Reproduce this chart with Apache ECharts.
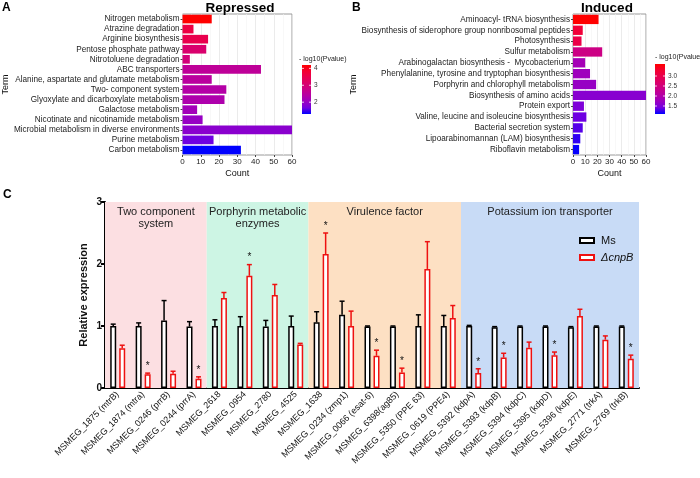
<!DOCTYPE html>
<html><head><meta charset="utf-8">
<script src="https://cdn.jsdelivr.net/npm/echarts@6/dist/echarts.min.js"></script>
<style>html,body{margin:0;padding:0;background:#fff}#c{width:700px;height:478px}</style>
</head><body><div id="c"></div>
<script>
// ---------- Panel A (Repressed) ----------
const termsA = ['Nitrogen metabolism','Atrazine degradation','Arginine biosynthesis','Pentose phosphate pathway','Nitrotoluene degradation','ABC transporters','Alanine, aspartate and glutamate metabolism','Two- component system','Glyoxylate and dicarboxylate metabolism','Galactose metabolism','Nicotinate and nicotinamide metabolism','Microbial metabolism in diverse environments','Purine metabolism','Carbon metabolism'];
const countA = [16, 6, 14, 13, 4, 43, 16, 24, 23, 8, 11, 60, 17, 32];
const pA = [4.2, 3.62, 3.5, 3.1, 2.95, 2.55, 2.48, 2.38, 2.3, 2.14, 2.0, 1.88, 1.65, 1.3];
const pRangeA = [1.3, 4.2];
const pTicksA = [2, 3, 4];

// ---------- Panel B (Induced) ----------
const termsB = ['Aminoacyl- tRNA biosynthesis','Biosynthesis of siderophore group nonribosomal peptides','Photosynthesis','Sulfur metabolism','Arabinogalactan biosynthesis -  Mycobacterium','Phenylalanine, tyrosine and tryptophan biosynthesis','Porphyrin and chlorophyll metabolism','Biosynthesis of amino acids','Protein export','Valine, leucine and isoleucine biosynthesis','Bacterial secretion system','Lipoarabinomannan (LAM) biosynthesis','Riboflavin metabolism'];
const countB = [21, 8, 7, 24, 10, 14, 19, 60, 9, 11, 8, 6, 5];
const pB = [3.6, 3.2, 3.05, 2.4, 1.85, 1.78, 1.7, 1.58, 1.5, 1.4, 1.33, 1.23, 1.12];
const pRangeB = [1.1, 3.6];
const pTicksB = ['1.5', '2.0', '2.5', '3.0'];

const countTicks = [0, 10, 20, 30, 40, 50, 60];

// ---------- Panel C ----------
const genes = ['MSMEG_1875 (mtrB)','MSMEG_1874 (mtra)','MSMEG_0246 (prrB)','MSMEG_0244 (prrA)','MSMEG_2618','MSMEG_0954','MSMEG_2780','MSMEG_4525','MSMEG_1638','MSMEG_0234 (zmp1)','MSMEG_0066 (esat-6)','MSMEG_6398(ag85)','MSMEG_5350 (PPE 63)','MSMEG_0619 (PPE4)','MSMEG_5392 (kdpA)','MSMEG_5393 (kdpB)','MSMEG_5394 (kdpC)','MSMEG_5395 (kdpD)','MSMEG_5396 (kdpE)','MSMEG_2771 (trkA)','MSMEG_2769 (trkB)'];
const msMean = [1.0, 1.0, 1.09, 0.99, 1.0, 1.0, 0.99, 1.0, 1.06, 1.18, 0.99, 0.99, 1.0, 1.0, 1.0, 0.98, 0.99, 0.99, 0.98, 0.99, 0.99];
const msErr  = [0.03, 0.05, 0.32, 0.08, 0.10, 0.15, 0.10, 0.16, 0.17, 0.22, 0.01, 0.01, 0.18, 0.17, 0.01, 0.01, 0.01, 0.01, 0.01, 0.01, 0.01];
const cnpMean = [0.64, 0.22, 0.23, 0.15, 1.45, 1.81, 1.50, 0.70, 2.16, 1.00, 0.52, 0.25, 1.92, 1.13, 0.24, 0.49, 0.65, 0.53, 1.16, 0.78, 0.47];
const cnpErr  = [0.05, 0.02, 0.04, 0.03, 0.09, 0.18, 0.17, 0.02, 0.34, 0.24, 0.09, 0.07, 0.44, 0.20, 0.07, 0.07, 0.09, 0.05, 0.11, 0.06, 0.06];
const signif = [0, 1, 0, 1, 0, 1, 0, 0, 1, 0, 1, 1, 0, 0, 1, 1, 0, 1, 0, 0, 1];
const groupNames = ['Two component\nsystem', 'Porphyrin metabolic\nenzymes', 'Virulence factor', 'Potassium ion transporter'];
const groupBounds = [0, 4, 8, 14, 21];
const yTicksC = [0, 1, 2, 3];
const seriesNames = ['Ms', 'ΔcnpB'];

// ---------- styles ----------
const FONT = 'Liberation Sans, Arial, sans-serif';
const grad = ['#0000FF','#7300E0','#9A00C2','#B500A5','#C90088','#DA006C','#E8004F','#F40031','#FF0000'];
const bandColors = ['#fcdfe2', '#cdf5e4', '#fde0c3', '#c8dbf6'];

const chart = echarts.init(document.getElementById('c'), null, {renderer: 'canvas'});

function enrichAxes(gi, left, width, terms, nameGap) {
  return {
    grid: {left: left, top: 14, width: width, height: 141, show: true, borderColor: '#9a9a9a', borderWidth: 1, backgroundColor: '#fff'},
    xAxis: {type: 'value', gridIndex: gi, min: countTicks[0], max: countTicks[countTicks.length - 1], interval: 10,
      name: 'Count', nameLocation: 'middle', nameGap: 14, nameTextStyle: {fontSize: 9, color: '#111', fontFamily: FONT},
      axisLine: {show: false}, axisTick: {show: true, length: 2, lineStyle: {color: '#444'}},
      axisLabel: {fontSize: 8, color: '#222', margin: 3, fontFamily: FONT},
      splitLine: {lineStyle: {color: '#e6e6e6', width: 0.8}},
      minorTick: {show: false, splitNumber: 2}, minorSplitLine: {show: true, lineStyle: {color: '#f3f3f3', width: 0.6}}},
    yAxis: {type: 'category', gridIndex: gi, data: terms, inverse: true,
      name: 'Term', nameLocation: 'middle', nameGap: nameGap, nameRotate: 90, nameTextStyle: {fontSize: 9, color: '#111', fontFamily: FONT},
      axisLine: {show: false}, axisTick: {show: true, length: 2, alignWithLabel: true, interval: 0, lineStyle: {color: '#444'}},
      axisLabel: {fontSize: 8.2, color: '#222', margin: 3, interval: 0, fontFamily: FONT}, splitLine: {show: false}}
  };
}
const ea = enrichAxes(0, 176, 116, termsA, 163);
const eb = enrichAxes(1, 573, 73, termsB, 207);

function colorbar(x, y, w, h, range, ticks, titleX, titleY) {
  const stops = grad.map((c, i) => ({offset: i / (grad.length - 1), color: c}));
  const els = [
    {type: 'text', left: titleX, top: titleY, style: {text: '- log10(Pvalue)', fontSize: 7, fill: '#222', fontFamily: FONT}},
    {type: 'rect', left: x, top: y, shape: {width: w, height: h}, style: {fill: new echarts.graphic.LinearGradient(0, 1, 0, 0, stops)}}
  ];
  ticks.forEach(t => {
    const v = parseFloat(t);
    const ty = y + (range[1] - v) / (range[1] - range[0]) * h;
    els.push({type: 'line', shape: {x1: x, y1: ty, x2: x + 2, y2: ty}, style: {stroke: '#fff', lineWidth: 0.8}});
    els.push({type: 'line', shape: {x1: x + w - 2, y1: ty, x2: x + w, y2: ty}, style: {stroke: '#fff', lineWidth: 0.8}});
    els.push({type: 'text', x: x + w + 3, y: ty, style: {text: String(t), fontSize: 6.5, fill: '#333', verticalAlign: 'middle', fontFamily: FONT}});
  });
  return els;
}

function errSeries(means, errs, color, off, stars) {
  return {
    type: 'custom', xAxisIndex: 2, yAxisIndex: 2, z: 6, silent: true,
    data: means.map((m, i) => [i, m, errs[i], stars ? stars[i] : 0]),
    renderItem: function (params, api) {
      const i = api.value(0), m = api.value(1), e = api.value(2), s = api.value(3);
      const p0 = api.coord([i, m]), p1 = api.coord([i, m + e]);
      const x = p0[0] + off;
      const ch = [
        {type: 'line', shape: {x1: x, y1: p0[1], x2: x, y2: p1[1]}, style: {stroke: color, lineWidth: 1.5}},
        {type: 'line', shape: {x1: x - 2.5, y1: p1[1], x2: x + 2.5, y2: p1[1]}, style: {stroke: color, lineWidth: 1.5}}
      ];
      if (s) ch.push({type: 'text', style: {text: '*', x: x, y: p1[1] - 2, align: 'center', verticalAlign: 'bottom', fontSize: 10, fill: '#111', fontFamily: FONT}});
      return {type: 'group', children: ch};
    }
  };
}

const bandData = groupNames.map((g, k) => [
  {name: g, xAxis: groupBounds[k], yAxis: yTicksC[0], itemStyle: {color: bandColors[k]}},
  {xAxis: groupBounds[k + 1], yAxis: yTicksC[yTicksC.length - 1]}
]);

const tStyle = {fontSize: 12, fontWeight: 'bold', color: '#000', fontFamily: FONT};
const option = {
  animation: false,
  textStyle: {fontFamily: FONT},
  title: [
    {text: 'A', left: 2, top: 2, padding: 0, textStyle: tStyle},
    {text: 'B', left: 352, top: 2, padding: 0, textStyle: tStyle},
    {text: 'C', left: 3, top: 189, padding: 0, textStyle: tStyle},
    {text: 'Repressed', left: 240, top: 1, padding: 0, textAlign: 'center', textStyle: {fontSize: 13.5, fontWeight: 'bold', color: '#000', fontFamily: FONT}},
    {text: 'Induced', left: 607, top: 1, padding: 0, textAlign: 'center', textStyle: {fontSize: 13.5, fontWeight: 'bold', color: '#000', fontFamily: FONT}}
  ],
  grid: [ea.grid, eb.grid, {left: 105, top: 202, width: 534, height: 186}],
  xAxis: [ea.xAxis, eb.xAxis,
    {type: 'category', gridIndex: 2, data: genes,
      axisLine: {lineStyle: {color: '#000', width: 2}},
      axisTick: {alignWithLabel: true, length: 4, lineStyle: {color: '#000', width: 1.5}},
      axisLabel: {rotate: 45, fontSize: 9, color: '#111', margin: 5, interval: 0, fontFamily: FONT}},
    {type: 'value', gridIndex: 2, min: 0, max: genes.length, show: false}
  ],
  yAxis: [ea.yAxis, eb.yAxis,
    {type: 'value', gridIndex: 2, min: yTicksC[0], max: yTicksC[yTicksC.length - 1], interval: 1,
      name: 'Relative expression', nameLocation: 'middle', nameGap: 16, nameMoveOverlap: false,
      nameTextStyle: {fontSize: 11, fontWeight: 'bold', color: '#111', fontFamily: FONT},
      axisLine: {show: true, lineStyle: {color: '#000', width: 2}},
      axisTick: {show: true, length: 4, lineStyle: {color: '#000', width: 2}},
      axisLabel: {fontSize: 10, fontWeight: 'bold', color: '#111', margin: 3, fontFamily: FONT},
      splitLine: {show: false}}
  ],
  visualMap: [
    {show: false, seriesIndex: 0, dimension: 2, min: pRangeA[0], max: pRangeA[1], inRange: {color: grad}},
    {show: false, seriesIndex: 1, dimension: 2, min: pRangeB[0], max: pRangeB[1], inRange: {color: grad}}
  ],
  legend: {
    data: [{name: seriesNames[0]}, {name: seriesNames[1], textStyle: {fontStyle: 'italic'}}],
    orient: 'vertical', left: 579, top: 235, padding: 0, itemWidth: 14, itemHeight: 5, itemGap: 6, icon: 'rect',
    textStyle: {fontSize: 11, color: '#111', fontFamily: FONT, padding: [0, 0, 0, 2]}
  },
  series: [
    {type: 'bar', xAxisIndex: 0, yAxisIndex: 0, barCategoryGap: '14%',
      data: termsA.map((t, i) => [countA[i], t, pA[i]]), encode: {x: 0, y: 1}},
    {type: 'bar', xAxisIndex: 1, yAxisIndex: 1, barCategoryGap: '14%',
      data: termsB.map((t, i) => [countB[i], t, pB[i]]), encode: {x: 0, y: 1}},
    {type: 'line', xAxisIndex: 3, yAxisIndex: 2, z: 0, silent: true, showSymbol: false, data: [],
      markArea: {silent: true, data: bandData,
        label: {show: true, position: 'insideTop', distance: 4, fontSize: 11, lineHeight: 12, color: '#222', fontFamily: FONT}}},
    {type: 'bar', name: seriesNames[0], xAxisIndex: 2, yAxisIndex: 2, z: 4, barWidth: 6, barGap: '50%',
      itemStyle: {color: '#fff', borderColor: '#000', borderWidth: 1.5}, data: msMean},
    {type: 'bar', name: seriesNames[1], xAxisIndex: 2, yAxisIndex: 2, z: 4, barWidth: 6, barGap: '50%',
      itemStyle: {color: '#fff', borderColor: '#ee1111', borderWidth: 1.5}, data: cnpMean},
    errSeries(msMean, msErr, '#000', -4.5, null),
    errSeries(cnpMean, cnpErr, '#ee1111', 4.5, signif)
  ],
  graphic: [].concat(
    colorbar(302, 65, 9, 49, pRangeA, pTicksA, 299, 56),
    colorbar(655, 64, 10, 50, pRangeB, pTicksB, 655, 54)
  )
};
chart.setOption(option);
</script></body></html>
